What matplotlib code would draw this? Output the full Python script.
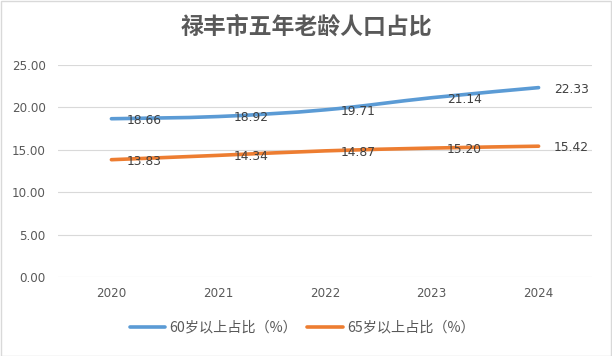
import numpy as np
import matplotlib.pyplot as plt
from matplotlib.path import Path
from matplotlib.patches import PathPatch, Rectangle
from matplotlib.lines import Line2D

plt.rcParams['font.family'] = ['Noto Sans CJK SC', 'DejaVu Sans']

years = ['2020', '2021', '2022', '2023', '2024']
over60 = [18.66, 18.92, 19.71, 21.14, 22.33]
over65 = [13.83, 14.34, 14.87, 15.20, 15.42]
series_names = ['60岁以上占比（%）', '65岁以上占比（%）']
colors = ['#5B9BD5', '#ED7D31']
title = '禄丰市五年老龄人口占比'

fig = plt.figure(figsize=(6.12, 3.56), dpi=100)
fig.patches.append(Rectangle((0.001, 0.001), 0.997, 0.996, transform=fig.transFigure,
                             fill=False, edgecolor='#D9D9D9', linewidth=1))
ax = fig.add_axes([0.0948, 0.222, 0.8725, 0.5955])


def smooth_path(xs, ys):
    # Excel-like smoothed line: Catmull-Rom turned into cubic Bezier segments
    pts = np.column_stack([xs, ys]).astype(float)
    ext = np.vstack([pts[0], pts, pts[-1]])
    verts = [pts[0]]
    codes = [Path.MOVETO]
    for i in range(len(pts) - 1):
        p0, p1, p2, p3 = ext[i], ext[i + 1], ext[i + 2], ext[i + 3]
        verts += [p1 + (p2 - p0) / 6, p2 - (p3 - p1) / 6, p2]
        codes += [Path.CURVE4] * 3
    return Path(verts, codes)


num_font = 'DejaVu Sans'
x = np.arange(len(years))
for vals, c in zip([over60, over65], colors):
    ax.add_patch(PathPatch(smooth_path(x, vals), facecolor='none', edgecolor=c,
                           linewidth=2.6, capstyle='round', zorder=3))
    for xi, v in zip(x, vals):
        ax.annotate(f'{v:.2f}', (xi, v), xytext=(11, -1), textcoords='offset points',
                    ha='left', va='center', fontsize=8.8, color='#404040',
                    family=num_font, zorder=4)

ax.set_xlim(-0.5, len(years) - 0.5)
ax.set_ylim(0, 25)
ax.set_yticks(np.arange(0, 26, 5))
ax.set_yticklabels([f'{v:.2f}' for v in np.arange(0, 26, 5)], family=num_font)
ax.set_xticks(x)
ax.set_xticklabels(years, family=num_font)
ax.grid(axis='y', color='#D9D9D9', linewidth=0.8)
ax.set_axisbelow(True)
for s in ax.spines.values():
    s.set_visible(False)
ax.tick_params(axis='both', length=0, labelsize=8.6, labelcolor='#595959')
ax.tick_params(axis='y', pad=9)
ax.tick_params(axis='x', pad=7)

fig.text(0.5, 0.925, title, ha='center', va='center', fontsize=16.5,
         color='#595959', fontweight='bold')

handles = [Line2D([], [], color=c, linewidth=2.6, solid_capstyle='round') for c in colors]
fig.legend(handles, series_names, loc='center', bbox_to_anchor=(0.494, 0.08), ncol=2,
           frameon=False, fontsize=10.2, labelcolor='#595959', handlelength=2.5,
           handletextpad=0.3, columnspacing=0.7)

fig.savefig('out.png', dpi=100)
